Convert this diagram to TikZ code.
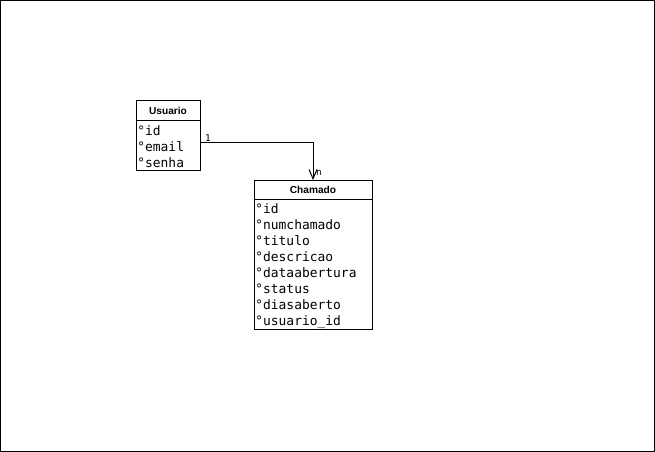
\documentclass[tikz,border=0pt]{standalone}
\usepackage{fontspec}
\newfontfamily\entfont{Liberation Sans}
\newfontfamily\attrfont{DejaVu Sans Mono}
\usetikzlibrary{arrows.meta, positioning}

\newcommand{\haut}[1]{\rule{0pt}{#1}}

\tikzset{
  entete/.style={draw, line width=0.75pt, inner sep=0pt, outer sep=0pt, minimum height=15pt,
    font=\entfont\bfseries\fontsize{7.6pt}{9pt}\selectfont},
  attributs/.style={draw, line width=0.75pt, inner xsep=1pt, inner ysep=0pt, outer sep=0pt,
    align=left, font=\attrfont\fontsize{9.7pt}{12pt}\selectfont},
  lien/.style={line width=0.75pt, -{Straight Barb[length=7pt, width=6pt]}},
  card/.style={inner sep=0pt, font=\attrfont\fontsize{7pt}{8pt}\selectfont}
}

\begin{document}
\begin{tikzpicture}[x=0.75pt, y=-0.75pt]
  \useasboundingbox (0,0) rectangle (655,452);
  \draw[line width=0.75pt] (0.5,0.5) rectangle (654.5,451.5);

  % Entite Usuario
  \node[entete, minimum width=48pt] (usuarioh) at (168,111) {Usuario};
  \node[attributs, minimum width=48pt, text width=46pt, minimum height=37.5pt,
    below=0pt of usuarioh] (usuario) {\haut{8.9pt}°id\\°email\\°senha};

  % Entite Chamado
  \node[entete, minimum width=88.5pt, minimum height=14.25pt] (chamadoh) at (313,189.5) {Chamado};
  \node[attributs, minimum width=88.5pt, text width=86.5pt, minimum height=97.5pt,
    below=0pt of chamadoh] (chamado)
    {\haut{10.4pt}°id\\°numchamado\\°titulo\\°descricao\\°dataabertura\\°status\\°diasaberto\\°usuario\_id};

  % Relation 1-n
  \draw[lien] ([yshift=2.25pt]usuario.east) -| (chamadoh.north);
  \node[card] (cardun) at (208,138) {1};
  \node[card] (cardn) at (319,173) {n};
\end{tikzpicture}
\end{document}
